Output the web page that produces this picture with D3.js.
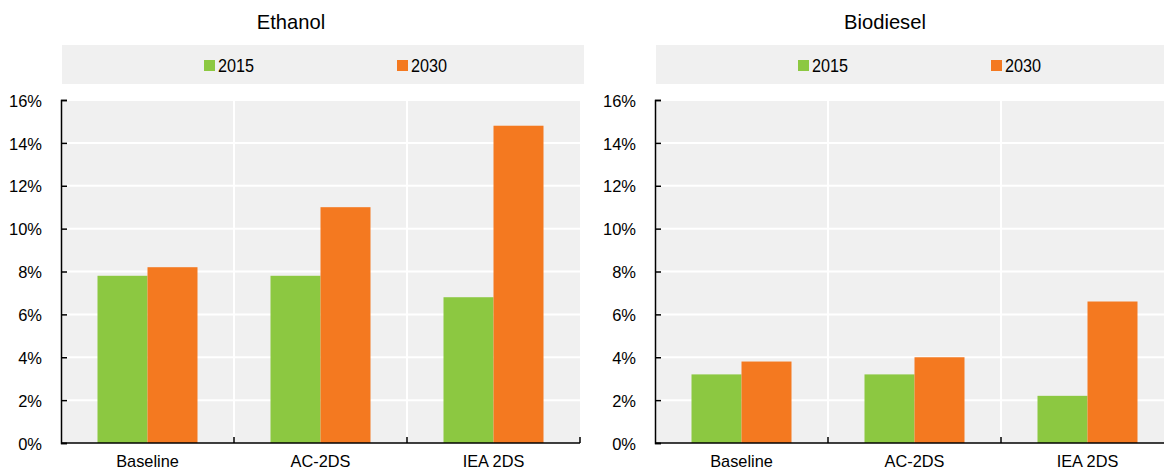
<!DOCTYPE html>
<html>
<head>
<meta charset="utf-8">
<script src="https://cdn.jsdelivr.net/npm/d3@7"></script>
<style>
  html, body { margin: 0; padding: 0; background: #fff; }
  svg { display: block; }
  text { font-family: "Liberation Sans", Arial, sans-serif; fill: #000; }
</style>
</head>
<body>
<svg id="chart" width="1164" height="470"></svg>
<script>
// Scenarios on the x axis
const categories = ["Baseline", "AC-2DS", "IEA 2DS"];
const years = ["2015", "2030"];
const yTicks = [0, 0.02, 0.04, 0.06, 0.08, 0.10, 0.12, 0.14, 0.16];

// Share of biofuels (fraction), per scenario
const ethanol2015 = [0.078, 0.078, 0.068];
const ethanol2030 = [0.082, 0.110, 0.148];
const biodiesel2015 = [0.032, 0.032, 0.022];
const biodiesel2030 = [0.038, 0.040, 0.066];

const colors = { "2015": "#8cc841", "2030": "#f47920" };

const panels = [
  { title: "Ethanol", x0: 0, axisX: 61, series: { "2015": ethanol2015, "2030": ethanol2030 } },
  { title: "Biodiesel", x0: 594, axisX: 655, series: { "2015": biodiesel2015, "2030": biodiesel2030 } }
];

const svg = d3.select("#chart");
const plotTop = 100, plotBottom = 443, plotWidth = 519;

// Narrow the glyphs of a text selection horizontally by a factor
function condense(sel, factor) {
  sel.each(function () {
    const w = this.getComputedTextLength();
    d3.select(this).attr("textLength", w * factor).attr("lengthAdjust", "spacingAndGlyphs");
  });
}

panels.forEach(p => {
  const g = svg.append("g");
  const left = p.axisX, right = p.axisX + plotWidth;

  const x = d3.scaleBand().domain(categories).range([left, right]);
  const x1 = d3.scaleBand().domain(years).range([0, x.bandwidth()]).paddingOuter(0.73).paddingInner(0);
  const y = d3.scaleLinear().domain([0, 0.16]).range([plotBottom, plotTop]);

  // Title
  g.append("text")
    .attr("x", p.x0 + 291).attr("y", 29)
    .attr("text-anchor", "middle")
    .style("font-size", "21px")
    .text(p.title)
    .call(condense, 0.96);

  // Legend band
  g.append("rect")
    .attr("x", left + 1).attr("y", 45)
    .attr("width", plotWidth + 3).attr("height", 39)
    .attr("fill", "#f0f0f0");
  const legendX = [left + 143, left + 336];
  years.forEach((yr, i) => {
    g.append("rect")
      .attr("x", legendX[i]).attr("y", 60)
      .attr("width", 11).attr("height", 11)
      .attr("fill", colors[yr]);
    g.append("text")
      .attr("x", legendX[i] + 14).attr("y", 72)
      .style("font-size", "18px")
      .text(yr)
      .call(condense, 0.9);
  });

  // Plot background
  g.append("rect")
    .attr("x", left).attr("y", plotTop)
    .attr("width", plotWidth).attr("height", plotBottom - plotTop)
    .attr("fill", "#f0f0f0");

  // Horizontal gridlines
  g.selectAll(".hgrid").data(yTicks.slice(1))
    .join("line")
    .attr("x1", left).attr("x2", right)
    .attr("y1", d => y(d)).attr("y2", d => y(d))
    .attr("stroke", "#fff").attr("stroke-width", 2);

  // Vertical gridlines between scenarios
  g.selectAll(".vgrid").data(categories.slice(1))
    .join("line")
    .attr("x1", d => x(d)).attr("x2", d => x(d))
    .attr("y1", plotTop).attr("y2", plotBottom)
    .attr("stroke", "#fff").attr("stroke-width", 2);

  // Bars
  years.forEach(yr => {
    g.selectAll(".bar-" + yr).data(categories)
      .join("rect")
      .attr("x", d => x(d) + x1(yr))
      .attr("width", x1.bandwidth())
      .attr("y", (d, i) => y(p.series[yr][i]))
      .attr("height", (d, i) => y(0) - y(p.series[yr][i]))
      .attr("fill", colors[yr]);
  });

  // Y axis, ticks pointing into the plot
  const yAxis = d3.axisLeft(y).tickValues(yTicks).tickFormat(d3.format(".0%"))
    .tickSizeOuter(0).tickSize(-6).tickPadding(19);
  const ya = g.append("g").attr("transform", `translate(${left},0)`).call(yAxis);
  ya.select(".domain").attr("stroke", "#000").attr("stroke-width", 1.5);
  ya.selectAll(".tick line").attr("stroke", "#000").attr("stroke-width", 1.5);
  ya.selectAll(".tick text").style("font-size", "17px").attr("dy", "0.36em")
    .style("font-family", '"Liberation Sans", Arial, sans-serif').attr("fill", "#000")
    .call(condense, 0.97);

  // X axis: baseline with upward ticks at scenario boundaries
  g.append("line")
    .attr("x1", left).attr("x2", right)
    .attr("y1", plotBottom).attr("y2", plotBottom)
    .attr("stroke", "#000").attr("stroke-width", 1.5);
  const bounds = categories.slice(1).map(c => x(c)).concat([right]);
  g.selectAll(".xtick").data(bounds)
    .join("line")
    .attr("x1", d => d).attr("x2", d => d)
    .attr("y1", plotBottom - 6).attr("y2", plotBottom)
    .attr("stroke", "#000").attr("stroke-width", 1.5);
  g.selectAll(".xlabel").data(categories)
    .join("text")
    .attr("x", d => x(d) + x.bandwidth() / 2)
    .attr("y", 467)
    .attr("text-anchor", "middle")
    .style("font-size", "17px")
    .text(d => d)
    .call(condense, 0.96);
});
</script>
</body>
</html>
